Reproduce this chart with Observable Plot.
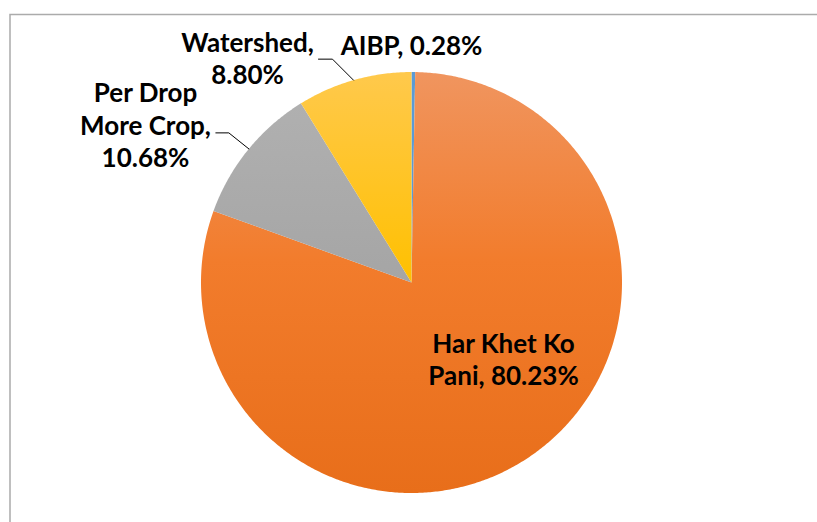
<!DOCTYPE html>
<html><head><meta charset="utf-8">
<script src="https://cdn.jsdelivr.net/npm/d3@7"></script>
<script src="https://cdn.jsdelivr.net/npm/@observablehq/plot@0.6"></script>
<style>html,body{margin:0;padding:0;background:#fff;overflow:hidden}</style>
</head><body><div id="chart"></div>
<script>
// ---- data ----
const categories = ["AIBP", "Har Khet Ko Pani", "Per Drop More Crop", "Watershed"];
const shares = [0.28, 80.23, 10.68, 8.80];
const labelTexts = ["AIBP, 0.28%", "Har Khet Ko\nPani, 80.23%", "Per Drop\nMore Crop,\n10.68%", "Watershed,\n8.80%"];

// ---- layout ----
const W = 817, H = 522, cx = 411, cy = 282, R = 210.5;
const gradIds = ["gBlue", "gOrange", "gGrey", "gYellow"];
const gradStops = [
  [[0, "#5B9BD5"], [1, "#5B9BD5"]],
  [[0, "#F0955F"], [0.45, "#F27C2C"], [1, "#E86E1A"]],
  [[0, "#B2B2B2"], [0.5, "#A5A5A5"], [1, "#A5A5A5"]],
  [[0, "#FFC94C"], [0.5, "#FFC000"], [1, "#FFC000"]]
];
const labelOffset = [[0, -238], [92, 76], [-266, -158], [-164, -225]];
// leader: [arc angle (deg), elbow dx, elbow dy, horizontal length]
const leaderSpec = [null, null, [309.4, -20, -16, 13], [344, -21, -21, 14]];

const arcs = d3.pie().sort(null).value(d => d)(shares);
const pt = (a, r) => ({x: cx + r * Math.sin(a), y: cy - r * Math.cos(a)});

const slicePts = arcs.map((a, i) => {
  const pts = [{...pt(0, 0), k: 0}];
  const n = Math.max(2, Math.ceil((a.endAngle - a.startAngle) / (Math.PI / 360)));
  for (let j = 0; j <= n; j++) {
    const ang = a.startAngle + (a.endAngle - a.startAngle) * j / n;
    pts.push({...pt(ang, R), k: j + 1});
  }
  pts.push({...pt(0, 0), k: n + 2});
  return pts;
});

const labelData = categories.map((c, i) => ({
  cat: c, text: labelTexts[i], x: cx + labelOffset[i][0], y: cy + labelOffset[i][1]
}));

const leaderLines = leaderSpec.map((s, i) => {
  if (!s) return null;
  const e = pt(s[0] * Math.PI / 180, R);
  const el = {x: e.x + s[1], y: e.y + s[2]};
  const st = {x: el.x - s[3], y: el.y};
  return [st, el, e];
}).filter(Boolean);

const defsMark = (index, scales) => {
  const defs = d3.create("svg:defs");
  gradIds.forEach((id, i) => {
    const g = defs.append("linearGradient").attr("id", id)
      .attr("gradientUnits", "userSpaceOnUse")
      .attr("x1", 0).attr("x2", 0)
      .attr("y1", scales.y(cy - R)).attr("y2", scales.y(cy + R));
    gradStops[i].forEach(([o, c]) => g.append("stop").attr("offset", o).attr("stop-color", c));
  });
  return defs.node();
};

const font = "Lato, 'Open Sans', sans-serif";

const chart = Plot.plot({
  width: W, height: H,
  margin: 0,
  x: {domain: [0, W], range: [0, W], axis: null},
  y: {domain: [0, H], range: [0, H], axis: null},
  style: {background: "#fff"},
  marks: [
    defsMark,
    Plot.frame({stroke: "#ABABAB", strokeWidth: 1.5, insetLeft: 9.5, insetTop: 14, insetRight: -20, insetBottom: -20}),
    ...slicePts.map((pts, i) => Plot.line(pts, {x: "x", y: "y", fill: `url(#${gradIds[i]})`, stroke: "none", curve: "linear"})),
    ...leaderLines.map(l => Plot.line(l, {x: "x", y: "y", stroke: "#000", strokeWidth: 1})),
    Plot.text(labelData, {x: "x", y: "y", text: "text", fontFamily: font, fontWeight: "bold", fontSize: 26, lineHeight: 1.25, fill: "#000", textAnchor: "middle"})
  ]
});
document.getElementById("chart").appendChild(chart);
</script>
</body></html>
